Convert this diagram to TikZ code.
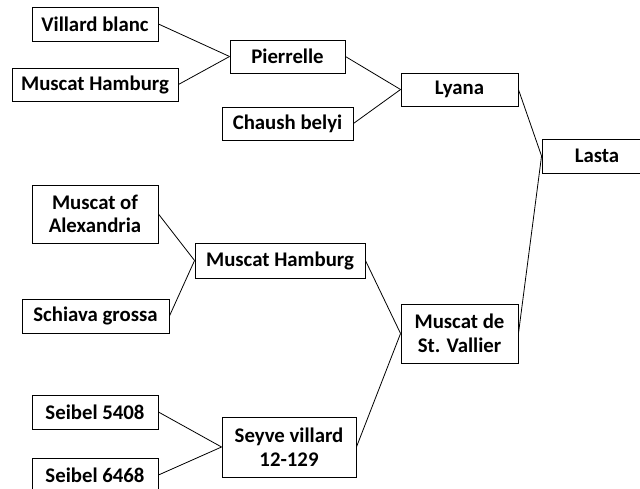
\documentclass[tikz,border=0pt]{standalone}
\usepackage{fontspec}
\setmainfont{Carlito}
\begin{document}
\begin{tikzpicture}[x=1pt,y=-1pt,
  box/.style={draw=black, line width=0.9pt, inner sep=0pt, align=center,
    font=\fontsize{20.8}{23.5}\selectfont\bfseries},
  link/.style={draw=black, line width=0.8pt}]
\useasboundingbox (0,0) rectangle (640,488);
\node[box, minimum width=126, minimum height=34] (vb) at (95,24) {Villard blanc};
\node[box, minimum width=166, minimum height=33] (mh1) at (95,84.5) {Muscat Hamburg};
\node[box, minimum width=115, minimum height=33] (pi) at (287.5,56.5) {Pierrelle};
\node[box, minimum width=131, minimum height=33] (cb) at (287.5,123.5) {Chaush belyi};
\node[box, minimum width=117, minimum height=33] (ly) at (459.5,89.5) {Lyana};
\node[box, minimum width=110, minimum height=34] (la) at (597,156) {Lasta};
\node[box, minimum width=126, minimum height=58] (ma) at (95,214) {Muscat of\\Alexandria};
\node[box, minimum width=170, minimum height=35] (mh2) at (280,260.5) {Muscat Hamburg};
\node[box, minimum width=147, minimum height=34] (sg) at (95.5,316) {Schiava grossa};
\node[box, minimum width=117, minimum height=59] (mv) at (459.5,333.5) {Muscat de\\St. Vallier};
\node[box, minimum width=126, minimum height=34] (s5) at (95,412) {Seibel 5408};
\node[box, minimum width=134, minimum height=60] (sv) at (289,447) {Seyve villard\\12-129};
\node[box, minimum width=126, minimum height=34] (s6) at (95,475) {Seibel 6468};
\draw[link] (vb.east) -- (pi.west);
\draw[link] (mh1.east) -- (pi.west);
\draw[link] (pi.east) -- (ly.west);
\draw[link] (cb.east) -- (ly.west);
\draw[link] (ly.east) -- (la.west);
\draw[link] (ma.east) -- (mh2.west);
\draw[link] (sg.east) -- (mh2.west);
\draw[link] (mh2.east) -- (mv.west);
\draw[link] (s5.east) -- (sv.west);
\draw[link] (s6.east) -- (sv.west);
\draw[link] (sv.east) -- (mv.west);
\draw[link] (mv.east) -- (la.west);
\end{tikzpicture}
\end{document}
